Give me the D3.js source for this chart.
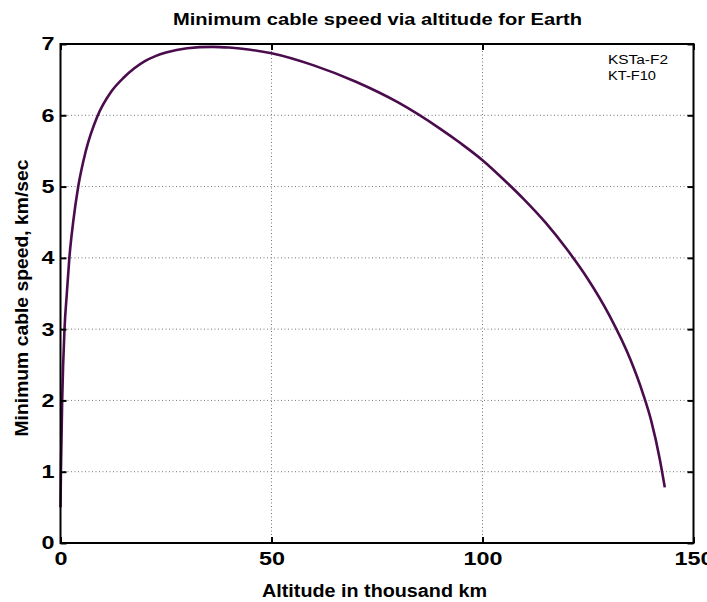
<!DOCTYPE html>
<html>
<head>
<meta charset="utf-8">
<script src="https://cdn.jsdelivr.net/npm/d3@7"></script>
<style>
    body { margin: 0; background: #fff; }
    svg { display: block; font-family: Arial, 'Liberation Sans', sans-serif; }
</style>
</head>
<body>
<svg></svg>
<script>
// altitude in thousand km, speed in km/sec
let altitude = [0, 0.1, 0.4, 0.95, 1.5, 2.1, 3.0, 4.2, 6.0, 8.7, 12, 15, 17.5, 20, 22.5, 25, 30, 36, 40, 45, 50, 60, 70, 80, 90, 95, 100, 105, 110, 115, 120, 125, 130, 135, 138, 140, 142, 143.2]
let speed = [0.5, 1.0, 2.0, 3.0, 3.5, 4.0, 4.5, 5.0, 5.5, 5.98, 6.33, 6.53, 6.66, 6.76, 6.83, 6.88, 6.94, 6.96, 6.95, 6.92, 6.87, 6.70, 6.47, 6.18, 5.81, 5.60, 5.37, 5.10, 4.81, 4.49, 4.12, 3.70, 3.20, 2.58, 2.10, 1.71, 1.18, 0.78]
let xTicks = [0, 50, 100, 150]
let yTicks = [0, 1, 2, 3, 4, 5, 6, 7]
let legendLabels = ['KSTa-F2', 'KT-F10']

let width = 707
let height = 602
let plotLeft = 60.5, plotRight = 693.5, plotTop = 44, plotBottom = 543
let svg = d3.select('svg').attr('width', width).attr('height', height)

let xScale = d3.scaleLinear().domain([0, 150]).range([plotLeft, plotRight])
let yScale = d3.scaleLinear().domain([0, 7]).range([plotBottom, plotTop])

// dotted grid
svg.append('g')
    .selectAll('line')
    .data(xTicks.slice(1, -1))
    .enter()
    .append('line')
    .attr('x1', (d) => xScale(d)).attr('x2', (d) => xScale(d))
    .attr('y1', plotTop).attr('y2', plotBottom)
    .attr('stroke', '#777').attr('stroke-width', 1).attr('stroke-dasharray', '1,2.5')
svg.append('g')
    .selectAll('line')
    .data(yTicks.slice(1, -1))
    .enter()
    .append('line')
    .attr('x1', plotLeft).attr('x2', plotRight)
    .attr('y1', (d) => yScale(d)).attr('y2', (d) => yScale(d))
    .attr('stroke', '#777').attr('stroke-width', 1).attr('stroke-dasharray', '1,2.5')

// curve
let line = d3.line()
    .x((d, i) => xScale(altitude[i]))
    .y((d) => yScale(d))
    .curve(d3.curveMonotoneX)
svg.append('path')
    .datum(speed)
    .attr('d', line)
    .attr('fill', 'none')
    .attr('stroke', '#4a0c4c')
    .attr('stroke-width', 2.6)

// axes, ticks pointing inward on every side
let styleAxis = (g) => {
    g.select('.domain').remove()
    g.selectAll('.tick line').attr('stroke', '#000').attr('stroke-width', 2)
}
let styleLabels = (g) => {
    g.selectAll('text')
        .attr('fill', '#000')
        .attr('font-size', 18.5)
        .attr('font-weight', 'bold')
        .attr('textLength', (d) => String(d).length * 13)
        .attr('lengthAdjust', 'spacingAndGlyphs')
}
let xAxis = d3.axisBottom(xScale).tickValues(xTicks).tickFormat(d3.format('d')).tickSizeInner(-6).tickSizeOuter(0).tickPadding(9)
let xAxisTop = d3.axisTop(xScale).tickValues(xTicks).tickSizeInner(-6).tickSizeOuter(0).tickFormat('')
let yAxis = d3.axisLeft(yScale).tickValues(yTicks).tickFormat(d3.format('d')).tickSizeInner(-6).tickSizeOuter(0).tickPadding(6)
let yAxisRight = d3.axisRight(yScale).tickValues(yTicks).tickSizeInner(-6).tickSizeOuter(0).tickFormat('')

svg.append('g').attr('transform', 'translate(0,' + plotBottom + ')').call(xAxis).call(styleAxis).call(styleLabels)
svg.append('g').attr('transform', 'translate(0,' + plotTop + ')').call(xAxisTop).call(styleAxis)
svg.append('g').attr('transform', 'translate(' + plotLeft + ',0)').call(yAxis).call(styleAxis).call(styleLabels)
svg.append('g').attr('transform', 'translate(' + plotRight + ',0)').call(yAxisRight).call(styleAxis)

svg.append('rect')
    .attr('x', plotLeft).attr('y', plotTop)
    .attr('width', plotRight - plotLeft).attr('height', plotBottom - plotTop)
    .attr('fill', 'none').attr('stroke', '#000').attr('stroke-width', 2)

// legend
svg.append('g')
    .selectAll('text')
    .data(legendLabels)
    .enter()
    .append('text')
    .attr('x', 608)
    .attr('y', (d, i) => 64 + i * 16)
    .attr('font-size', 12.5)
    .attr('textLength', (d, i) => i === 0 ? 60 : 48)
    .attr('lengthAdjust', 'spacingAndGlyphs')
    .text((d) => d)

// titles
svg.append('text')
    .attr('x', 377.5).attr('y', 25)
    .attr('text-anchor', 'middle')
    .attr('font-size', 17).attr('font-weight', 'bold')
    .attr('textLength', 409).attr('lengthAdjust', 'spacingAndGlyphs')
    .text('Minimum cable speed via altitude for Earth')
svg.append('text')
    .attr('x', 374.5).attr('y', 597)
    .attr('text-anchor', 'middle')
    .attr('font-size', 18).attr('font-weight', 'bold')
    .attr('textLength', 225).attr('lengthAdjust', 'spacingAndGlyphs')
    .text('Altitude in thousand km')
svg.append('text')
    .attr('transform', 'translate(28,298) rotate(-90)')
    .attr('text-anchor', 'middle')
    .attr('font-size', 18).attr('font-weight', 'bold')
    .attr('textLength', 277).attr('lengthAdjust', 'spacingAndGlyphs')
    .text('Minimum cable speed, km/sec')
</script>
</body>
</html>
